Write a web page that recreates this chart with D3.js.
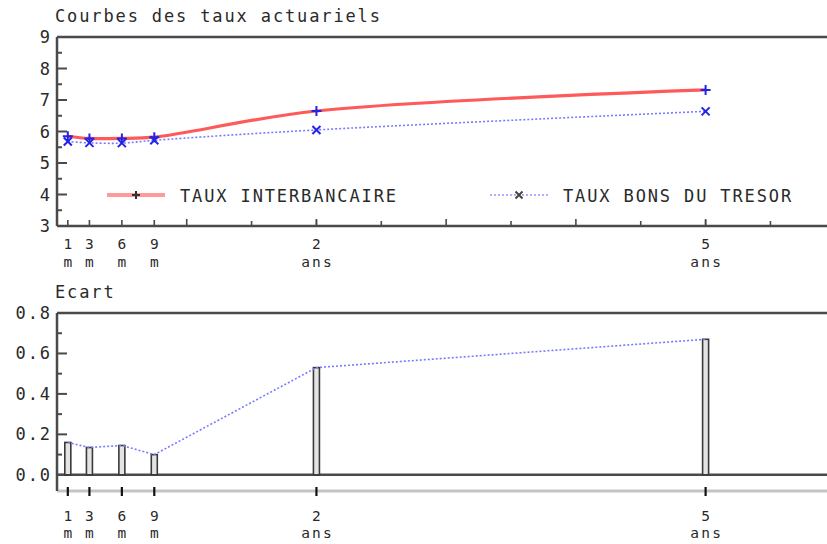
<!DOCTYPE html>
<html>
<head>
<meta charset="utf-8">
<script src="https://cdn.jsdelivr.net/npm/d3@7"></script>
<style>
  html, body { margin: 0; padding: 0; background: #fff; }
  svg text { font-family: "DejaVu Sans Mono", monospace; font-size: 17px; fill: #2a2a2a; letter-spacing: 1.87px; }
  svg text.tick { font-size: 14.5px; letter-spacing: 2.2px; }
</style>
</head>
<body>
<svg id="chart" width="827" height="544"></svg>
<script>
// ---- data ----
const maturities = [1, 3, 6, 9, 24, 60];            // months
const tickTop = ["1", "3", "6", "9", "2", "5"];
const tickBottom = ["m", "m", "m", "m", "ans", "ans"];
const tauxInterbancaire = [5.85, 5.78, 5.78, 5.82, 6.65, 7.32];
const tauxBonsTresor = [5.68, 5.64, 5.63, 5.72, 6.05, 6.64];
const ecart = [0.16, 0.135, 0.145, 0.10, 0.53, 0.67];
const yTicksTop = [3, 4, 5, 6, 7, 8, 9];
const yTicksBottom = [0.0, 0.2, 0.4, 0.6, 0.8];
const seriesNames = ["TAUX INTERBANCAIRE", "TAUX BONS DU TRESOR"];
const titleTop = "Courbes des taux actuariels";
const titleBottom = "Ecart";

const svg = d3.select("#chart");
const W = 827;
const CHAR = 12.1, LS = 1.87;
const CHAR_T = 14.5 * 0.602 + 2.2, LS_T = 2.2;
const axisCol = "#4a4a4a";

const x = d3.scaleLinear().domain([0, 72]).range([57, 57 + 72 * 10.81]);

// ---------- top panel ----------
const yT = d3.scaleLinear().domain([3, 9]).range([226, 37]);

svg.append("text").attr("x", 55).attr("y", 22).text(titleTop);

// frame
svg.append("line").attr("x1", 57).attr("x2", W).attr("y1", yT(9)).attr("y2", yT(9))
  .attr("stroke", axisCol).attr("stroke-width", 2.5);
svg.append("line").attr("x1", 57).attr("x2", W).attr("y1", yT(3)).attr("y2", yT(3))
  .attr("stroke", axisCol).attr("stroke-width", 2.5);
svg.append("line").attr("x1", 57).attr("x2", 57).attr("y1", yT(9)).attr("y2", yT(3))
  .attr("stroke", axisCol).attr("stroke-width", 2.5);

// y ticks (inward)
d3.range(3, 9.01, 0.5).forEach(v => {
  const major = Math.abs(v - Math.round(v)) < 1e-6;
  svg.append("line").attr("x1", 57).attr("x2", 57 + (major ? 10 : 5))
    .attr("y1", yT(v)).attr("y2", yT(v)).attr("stroke", axisCol).attr("stroke-width", 2);
});
function rightText(xEnd, y, s) {
  return svg.append("text").attr("x", xEnd - s.length * CHAR + LS).attr("y", y)
    .attr("dominant-baseline", "middle").text(s);
}
yTicksTop.forEach(v => rightText(50, yT(v) + 1, String(v)));

// x ticks (upward)
const sixMonth = d3.range(12, 73, 6);
sixMonth.forEach(m => {
  const len = (m % 12 === 0) ? 7 : 5;
  svg.append("line").attr("x1", x(m)).attr("x2", x(m)).attr("y1", yT(3)).attr("y2", yT(3) - len)
    .attr("stroke", axisCol).attr("stroke-width", 1.6);
});
maturities.forEach(m => {
  svg.append("line").attr("x1", x(m)).attr("x2", x(m)).attr("y1", yT(3)).attr("y2", yT(3) - 6)
    .attr("stroke", axisCol).attr("stroke-width", 1.6);
});
function tickText(cx, y, s) {
  return svg.append("text").attr("class", "tick")
    .attr("x", cx - (s.length * CHAR_T - LS_T) / 2).attr("y", y).text(s);
}
maturities.forEach((m, i) => {
  tickText(x(m), 249, tickTop[i]);
  tickText(x(m), 267, tickBottom[i]);
});

// lines
const curve = d3.line().x((d, i) => x(maturities[i])).y(d => yT(d)).curve(d3.curveCatmullRom.alpha(0.5));
svg.append("path").attr("d", curve(tauxInterbancaire)).attr("fill", "none")
  .attr("stroke", "#ff5a5a").attr("stroke-width", 3.2);
svg.append("path").attr("d", curve(tauxBonsTresor)).attr("fill", "none")
  .attr("stroke", "#7a7aff").attr("stroke-width", 1.6).attr("stroke-dasharray", "2,2");

const markCol = "#2323e6";
function plus(cx, cy, col, s) {
  svg.append("path").attr("d", `M${cx - s},${cy}H${cx + s}M${cx},${cy - s}V${cy + s}`)
    .attr("stroke", col).attr("stroke-width", 2).attr("fill", "none");
}
function cross(cx, cy, col, s) {
  svg.append("path").attr("d", `M${cx - s},${cy - s}L${cx + s},${cy + s}M${cx + s},${cy - s}L${cx - s},${cy + s}`)
    .attr("stroke", col).attr("stroke-width", 2).attr("fill", "none");
}
tauxBonsTresor.forEach((v, i) => cross(x(maturities[i]), yT(v), markCol, 4));
tauxInterbancaire.forEach((v, i) => plus(x(maturities[i]), yT(v), markCol, 5));

// legend
svg.append("line").attr("x1", 107).attr("x2", 165).attr("y1", 195).attr("y2", 195)
  .attr("stroke", "#ff9a9a").attr("stroke-width", 4);
plus(136, 195, "#333", 4);
svg.append("text").attr("x", 180).attr("y", 202).text(seriesNames[0]);
svg.append("line").attr("x1", 490).attr("x2", 548).attr("y1", 195).attr("y2", 195)
  .attr("stroke", "#b0b0ff").attr("stroke-width", 2).attr("stroke-dasharray", "2,2");
cross(519, 195, "#444", 3.5);
svg.append("text").attr("x", 563).attr("y", 202).text(seriesNames[1]);

// ---------- bottom panel ----------
const yB = d3.scaleLinear().domain([-0.08, 0.8]).range([491, 313]);

svg.append("text").attr("x", 55).attr("y", 298).text(titleBottom);

svg.append("line").attr("x1", 57).attr("x2", W).attr("y1", yB(0.8)).attr("y2", yB(0.8))
  .attr("stroke", axisCol).attr("stroke-width", 2.5);
svg.append("line").attr("x1", 57).attr("x2", W).attr("y1", yB(0)).attr("y2", yB(0))
  .attr("stroke", axisCol).attr("stroke-width", 2.5);
svg.append("line").attr("x1", 57).attr("x2", W).attr("y1", yB(-0.08)).attr("y2", yB(-0.08))
  .attr("stroke", "#c4c4c4").attr("stroke-width", 3);
svg.append("line").attr("x1", 57).attr("x2", 57).attr("y1", yB(0.8)).attr("y2", yB(-0.08))
  .attr("stroke", axisCol).attr("stroke-width", 2.5);

d3.range(0, 0.81, 0.1).forEach(v => {
  const major = Math.round(v * 10) % 2 === 0;
  svg.append("line").attr("x1", 57).attr("x2", 57 + (major ? 10 : 5))
    .attr("y1", yB(v)).attr("y2", yB(v)).attr("stroke", axisCol).attr("stroke-width", 2);
});
yTicksBottom.forEach(v => rightText(50, yB(v) + 1, v.toFixed(1)));

// bars
const barW = 6;
ecart.forEach((v, i) => {
  svg.append("rect").attr("x", x(maturities[i]) - barW / 2).attr("y", yB(v))
    .attr("width", barW).attr("height", yB(0) - yB(v))
    .attr("fill", "#e4e4e4").attr("stroke", "#3a3a3a").attr("stroke-width", 1.6);
});
const lineB = d3.line().x((d, i) => x(maturities[i])).y(d => yB(d));
svg.append("path").attr("d", lineB(ecart)).attr("fill", "none")
  .attr("stroke", "#7a7aff").attr("stroke-width", 1.6).attr("stroke-dasharray", "2,2");

// bottom x ticks
maturities.forEach((m, i) => {
  svg.append("line").attr("x1", x(m)).attr("x2", x(m)).attr("y1", 487).attr("y2", 496)
    .attr("stroke", "#111").attr("stroke-width", 2.2);
  tickText(x(m), 521, tickTop[i]);
  tickText(x(m), 538, tickBottom[i]);
});
</script>
</body>
</html>
